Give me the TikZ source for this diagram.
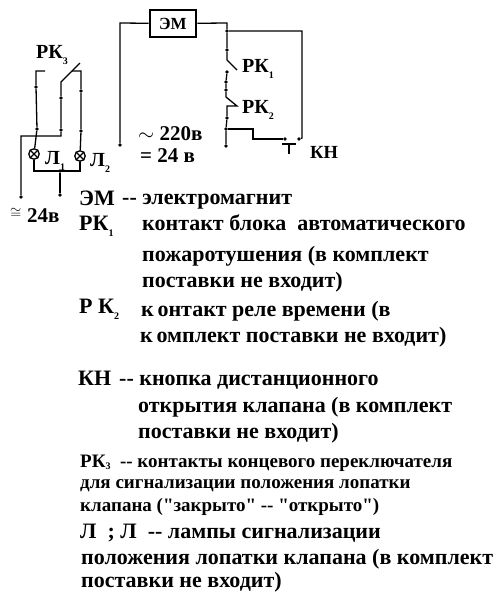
\documentclass[tikz,border=0pt]{standalone}
\usepackage{fontspec}
\setmainfont[Ligatures=TeXOff]{Liberation Serif}
\NewDocumentCommand{\lowidx}{O{-0.3em}m}{\raisebox{#1}{\fontsize{10}{10}\selectfont #2}}
\NewDocumentCommand{\wiredot}{mmm}{%
\node[wdot] (#1) at (#2,#3) {};%
}
\NewDocumentCommand{\lampcell}{mmm}{%
\node[lamp] (#1) at (#2,#3) {};%
\draw[wire] (#1.45) -- (#1.225);%
\draw[wire] (#1.135) -- (#1.315);%
}
\NewDocumentCommand{\legendfont}{m}{\fontsize{#1}{#1}\selectfont\bfseries}
\tikzset{
  wire/.style={line width=1.3pt},
  wdot/.style={circle, fill=black, inner sep=0pt, minimum size=3.8pt},
  lamp/.style={circle, draw, line width=1.3pt, inner sep=0pt, minimum size=10.5pt},
  coilbox/.style={draw, line width=2.6pt, inner sep=0pt, minimum width=46pt, minimum height=27pt, font=\legendfont{17}},
  mark label/.style={anchor=base west, inner sep=0pt, font=\legendfont{20}},
  scheme label/.style={anchor=base west, inner sep=0pt, font=\legendfont{21}},
  legend/.style={anchor=base west, inner sep=0pt, font=\legendfont{22}},
  legend small/.style={anchor=base west, inner sep=0pt, font=\legendfont{19}},
}
\begin{document}
\begin{tikzpicture}[x=1pt, y=-1pt]
        \useasboundingbox (0,0) rectangle (497,592);

        % Signal part.
        \lampcell{lampa}{34}{154}
        \lampcell{lampb}{80}{156}
        \wiredot{a1}{36}{87}
        \wiredot{a2}{37}{129}
        \wiredot{b1}{61}{98}
        \wiredot{b2}{61}{130}
        \wiredot{c1}{81}{91}
        \wiredot{c2}{81}{131}
        \wiredot{lampjoin}{60}{171}
        \wiredot{supa}{21}{197}
        \wiredot{supb}{60}{195}
        \foreach \n/\x/\y in {a0/45/71, a00/36/71, b0/61/82, bt/80/63, c0/72/71, c00/81/71,
            bb/61/136, bc/21/136, la/34/171, lb/80/171}
            \coordinate (\n) at (\x,\y);
        \draw[wire] (a0) -- (a00) -- (a1) -- (a2) -- (lampa);
        \draw[wire] (bt) -- (b0) -- (b1) -- (b2) -- (bb) -- (bc) -- (supa);
        \draw[wire] (c0) -- (c00) -- (c1) -- (c2) -- (lampb);
        \draw[wire] (lampa) -- (la) -- (lb) -- (lampb);
        \draw[wire] (lampjoin) -- (supb);

        % Power part.
        \node[coilbox] (coil) at (173,23.5) {ЭМ};
        \wiredot{lin}{120}{145}
        \wiredot{top}{227}{31}
        \wiredot{d1}{227}{50}
        \wiredot{d2}{227}{72}
        \wiredot{d3}{226}{82}
        \wiredot{d4}{226}{90}
        \wiredot{e1}{227}{118}
        \wiredot{e2}{226}{129}
        \wiredot{e3}{226}{146}
        \wiredot{btna}{285}{139}
        \wiredot{btnb}{299}{139}
        \foreach \n/\x/\y in {lc/120/23, tc/227/23, d0/227/60, dk/237/70, e0/226/97, ek/237/106, ej/227/106,
            rc/302/31, rd/302/138, f1/253/129, f2/253/139, ta/282/144, tb/296/144, tm/289/144, tn/289/154}
            \coordinate (\n) at (\x,\y);
        \draw[wire] (lin) -- (lc) -- (coil);
        \draw[wire] (coil) -- (tc) -- (top) -- (d1) -- (d0) -- (dk);
        \draw[wire] (top) -- (rc) -- (rd) -- (btnb);
        \draw[wire] (d2) -- (d3) -- (d4) -- (e0) -- (ek) -- (ej) -- (e1) -- (e2) -- (e3);
        \draw[wire] (e2) -- (f1) -- (f2) -- (btna);
        \draw[line width=2pt] (ta) -- (tb);
        \draw[line width=2pt] (tm) -- (tn);

        % Marks on the scheme.
        \node[mark label] (rk3) at (36,58) {РК\lowidx{3}};
        \node[mark label] (l1) at (45,164) {Л\lowidx{1}};
        \node[mark label] (l2) at (90,166) {Л\lowidx{2}};
        \node[mark label] (rk1) at (242,72) {РК\lowidx{1}};
        \node[mark label] (rk2) at (242,113) {РК\lowidx{2}};
        \node[mark label, font=\legendfont{18.5}] (kn) at (310,158) {КН};
        \node[scheme label] (ac) at (138,140) {\(\sim\) 220в};
        \node[scheme label] (dc) at (140,162) {= 24 в};
        \node[scheme label] (both) at (27,222) {24в};
        \node[scheme label, font=\legendfont{15}] (bothsign) at (10,218) {\(\cong\)};

        % Legend.
        \node[mark label, font=\legendfont{22}] (em) at (79,205) {ЭМ};
        \node[legend] (emtext) at (122,204) {-- электромагнит};
        \node[mark label, font=\legendfont{22}] (rka) at (79,230) {РК\lowidx{1}};
        \node[legend] (rkaa) at (142,230) {контакт блока\ \ автоматического};
        \node[legend] (rkab) at (142,261) {пожаротушения (в комплект};
        \node[legend] (rkac) at (142,287) {поставки не входит)};
        \node[mark label, font=\legendfont{22}] (rkb) at (79,313) {Р К\lowidx{2}};
        \node[legend] (rkba) at (141,316) {к\,онтакт реле времени (в};
        \node[legend] (rkbb) at (140,342) {к\,омплект поставки не входит)};
        \node[mark label, font=\legendfont{22}] (kna) at (78,385) {КН};
        \node[legend] (knb) at (119,385) {-- кнопка дистанционного};
        \node[legend] (knc) at (138,412) {открытия клапана (в комплект};
        \node[legend] (knd) at (138,438) {поставки не входит)};
        \node[legend small] (rkc) at (80,467) {РК\lowidx[-0.15em]{3}\ \ -- контакты концевого переключателя};
        \node[legend small] (rkd) at (80,488) {для сигнализации положения лопатки};
        \node[legend small] (rke) at (80,511) {клапана ("закрыто" -- "открыто")};
        \node[legend] (laa) at (80,538) {Л\ \ ; Л\ \ -- лампы сигнализации};
        \node[legend] (lab) at (81,564) {положения лопатки клапана (в комплект};
        \node[legend] (lac) at (81,587) {поставки не входит)};
    \end{tikzpicture}
\end{document}
